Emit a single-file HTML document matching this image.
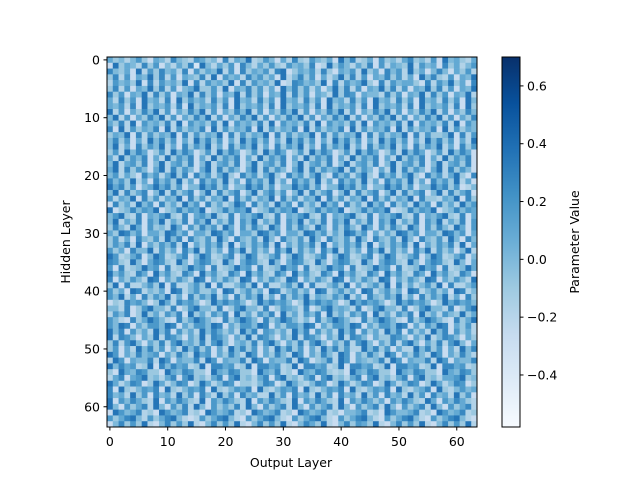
<!DOCTYPE html>
<html><head><meta charset="utf-8"><style>
body{margin:0;background:#fff;}
svg text{font-family:"DejaVu Sans","Liberation Sans",sans-serif;font-size:12.5px;fill:#000;}
</style></head><body>
<svg id="chart" width="640" height="480" xmlns="http://www.w3.org/2000/svg">
<defs><linearGradient id="cb" x1="0" y1="1" x2="0" y2="0">
<stop offset="0" stop-color="#f7fbff"/><stop offset="0.125" stop-color="#deebf7"/><stop offset="0.25" stop-color="#c6dbef"/><stop offset="0.375" stop-color="#9ecae1"/><stop offset="0.5" stop-color="#6baed6"/><stop offset="0.625" stop-color="#4292c6"/><stop offset="0.75" stop-color="#2171b5"/><stop offset="0.875" stop-color="#08519c"/><stop offset="1" stop-color="#08306b"/>
</linearGradient></defs>
<g id="cells"></g>
<rect x="107" y="57" width="370" height="370" fill="none" stroke="#000" stroke-width="1"/>
<g id="xt"></g>
<g id="yt"></g>
<text x="291" y="467" text-anchor="middle">Output Layer</text>
<text transform="translate(70,242) rotate(-90)" text-anchor="middle">Hidden Layer</text>
<rect x="502" y="57" width="18" height="370" fill="url(#cb)" stroke="#000" stroke-width="1"/>
<g id="ct"></g>
<text transform="translate(579,242) rotate(-90)" text-anchor="middle">Parameter Value</text>
</svg>
<script>
const rows = [
"6453574265385437645283659347526384375462958346274536845372956436",
"4375648239475364827365493756284635729465384725364819536472853647",
"5264738546293748563827465937284657389246573842657394628573946258",
"3857462935847263594837265847362958437265948372659483726548392756",
"6428375946283756492837564928375649283756492387564928375694283756",
"4739265847362958473625948372659483726594837265948372659483725694",
"5384726593847265938472659384726593847265938472659384726539487265",
"2947563847295638472956384729563847295638472956384729563847295638",
"6573829465738294657382946573829465738294657382946573829465738294",
"4859372648593726485937264859372648593726485937264859372648593726",
"3726485937264859372648593726485937264859372648593726485937264859",
"5648392756483927564839275648392756483927564839275648392756483927",
"7465829374658293746582937465829374658293746582937465829374658293",
"4592837465928374659283746592837465928374659283746592837465928374",
"3958472639584726395847263958472639584726395847263958472639584726",
"6284759362847593628475936284759362847593628475936284759362847593",
"4739586247395862473958624739586247395862473958624739586247395862",
"5826394758263947582639475826394758263947582639475826394758263947",
"3674825936748259367482593674825936748259367482593674825936748259",
"6938475263938475269384752693847526938475269384752693847526938475",
"4285736948285736942857369428573694285736942857369428573694285736",
"5749362857493628574936285749362857493628574936285749362857493628",
"3596847256968472559684725596847255968472559684725596847255968472",
"6847259384682593846825938468259384682593846825938468259384682593",
"4365928473659284736592847365928473659284736592847365928473659284",
"5972846395728463957284639572846395728463957284639572846395728463",
"3485769245857692458576924585769245857692458576924585769245857692",
"6759438265794382657943826579438265794382657943826579438265794382",
"4827593648275936482759364827593648275936482759364827593648275936",
"5396274857396274853962748539627485396274853962748539627485396274",
"3649857263649857266498572664985726649857266498572664985726649857",
"6285473958285473952854739528547395285473952854739528547395285473",
"4758392647583926475839264758392647583926475839264758392647583926",
"5937462855937462859374628593746285937462859374628593746285937462",
"3468259734682597346825973468259734682597346825973468259734682597",
"6874395268743952687439526874395268743952687439526874395268743952",
"4596728345967283459672834596728345967283459672834596728345967283",
"5743862957438629574386295743862957438629574386295743862957438629",
"3982647539826475398264753982647539826475398264753982647539826475",
"6357492836357492833574928335749283357492833574928335749283357492",
"4629835744629835746298357462983574629835746298357462983574629835",
"5475936285475936284759362847593628475936284759362847593628475936",
"3867524963867524968675249686752496867524968675249686752496867524",
"6538247956538247955382479553824795538247955382479553824795538247",
"4946375824946375829463758294637582946375829463758294637582946375",
"5284697535284697532846975328469753284697532846975328469753284697",
"3759826473759826477598264775982647759826477598264775982647759826",
"6463958276463958274639582746395827463958274639582746395827463958",
"4875264935875264938752649387526493875264938752649387526493875264",
"5648379525648379526483795264837952648379526483795264837952648379",
"3395847263395847263958472639584726395847263958472639584726395847",
"6726485396726485397264853972648539726485397264853972648539726485",
"4583972654583972655839726558397265583972655839726558397265583972",
"5867349285867349288673492886734928867349288673492886734928867349",
"3429658743429658744296587442965874429658744296587442965874429658",
"6794536826794536827945368279453682794536827945368279453682794536",
"4358724964358724963587249635872496358724963587249635872496358724",
"5682943575682943576829435768294357682943576829435768294357682943",
"3947285633947285639472856394728563947285639472856394728563947285",
"6275864396275864392758643927586439275864392758643927586439275864",
"4839527464839527468395274683952746839527468395274683952746839527",
"5568342975568342975683429756834297568342975683429756834297568342",
"3746895323746895327468953274689532746895327468953274689532746895",
"6493258476493258474932584749325847493258474932584749325847493258"
];
const xTicks = [0,10,20,30,40,50,60];
const yTicks = [0,10,20,30,40,50,60];
const cbTicks = [-0.4,-0.2,0.0,0.2,0.4,0.6];
const vmin = -0.58, vmax = 0.70;

const X0=107, Y0=57, W=370, N=64, cs=W/N;
const stops=["#f7fbff","#deebf7","#c6dbef","#9ecae1","#6baed6","#4292c6","#2171b5","#08519c","#08306b"].map(h=>[1,3,5].map(i=>parseInt(h.substr(i,2),16)));
function cmap(v){let t=Math.max(0,Math.min(1,(v-vmin)/(vmax-vmin)))*8;let i=Math.min(7,Math.floor(t)),f=t-i;
 const c=stops[i].map((a,k)=>Math.round(a+(stops[i+1][k]-a)*f));return `rgb(${c})`;}
function val(d){return -0.45+d*0.09;}
const xs=c=>X0+c*cs, ys=r=>Y0+r*cs;
const NS="http://www.w3.org/2000/svg";
function mk(t,a,p){const e=document.createElementNS(NS,t);for(const k in a)e.setAttribute(k,a[k]);p.appendChild(e);return e;}
const g=document.getElementById('cells');
rows.forEach((row,r)=>{
 const rr=(r*7)%64;
 for(let c=0;c<N;c++){
 const e=mk('rect',{x:xs(c),y:ys(r),width:cs+0.3,height:cs+0.3,fill:cmap(val(+row[(c+rr*5)%64]))},g);
 
 
}});
const xt=document.getElementById('xt');
xTicks.forEach(t=>{const x=xs(t)+cs/2;
 mk('line',{x1:x,x2:x,y1:427,y2:430.5,stroke:'#000'},xt);
 const e=mk('text',{x:x,y:446,'text-anchor':'middle'},xt);e.textContent=t;
 
 
});
const yt=document.getElementById('yt');
yTicks.forEach(t=>{const y=ys(t)+cs/2;
 mk('line',{x1:103.5,x2:107,y1:y,y2:y,stroke:'#000'},yt);
 const e=mk('text',{x:100,y:y+4.5,'text-anchor':'end'},yt);e.textContent=t;
 
 
});
const ct=document.getElementById('ct');
cbTicks.forEach(t=>{const y=427-(t-vmin)/(vmax-vmin)*370;
 mk('line',{x1:520,x2:523.5,y1:y,y2:y,stroke:'#000'},ct);
 const e=mk('text',{x:527,y:y+4.5},ct);e.textContent=t.toFixed(1).replace('-','\u2212');
 
 
});
</script>
</body></html>
